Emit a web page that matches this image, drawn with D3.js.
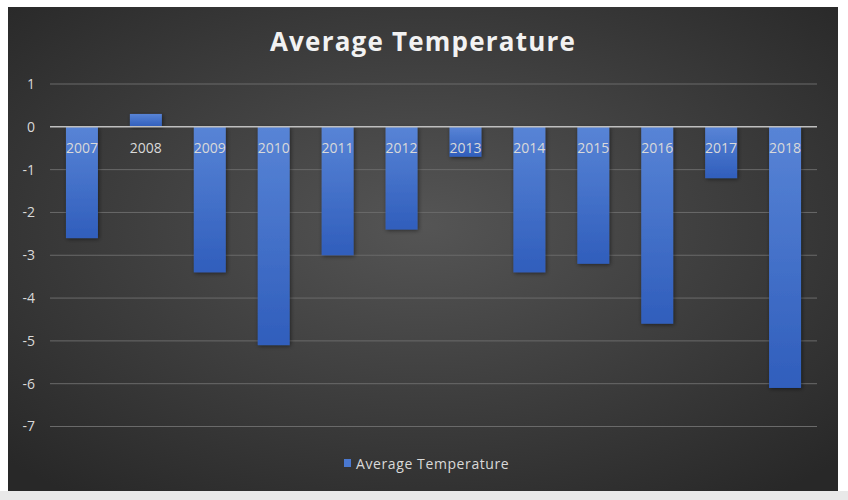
<!DOCTYPE html>
<html>
<head>
<meta charset="utf-8">
<script src="https://cdn.jsdelivr.net/npm/d3@7"></script>
<style>
  html, body { margin: 0; padding: 0; background: #ffffff; }
  svg { display: block; }
</style>
</head>
<body>
<svg id="chart"></svg>
<script>
// data
const years = ["2007", "2008", "2009", "2010", "2011", "2012", "2013", "2014", "2015", "2016", "2017", "2018"];
const temps = [-2.6, 0.3, -3.4, -5.1, -3.0, -2.4, -0.7, -3.4, -3.2, -4.6, -1.2, -6.1];
const yTicks = [1, 0, -1, -2, -3, -4, -5, -6, -7];

const W = 848, H = 500;
const svg = d3.select("#chart").attr("width", W).attr("height", H);
const defs = svg.append("defs");

const bg = defs.append("radialGradient").attr("id", "bg")
    .attr("cx", "50%").attr("cy", "45%").attr("r", "70%");
bg.append("stop").attr("offset", "0%").attr("stop-color", "#555555");
bg.append("stop").attr("offset", "100%").attr("stop-color", "#282828");

const barGrad = defs.append("linearGradient").attr("id", "barGrad")
    .attr("x1", 0).attr("y1", 0).attr("x2", 0).attr("y2", 1);
barGrad.append("stop").attr("offset", "0%").attr("stop-color", "#5884d6");
barGrad.append("stop").attr("offset", "100%").attr("stop-color", "#305ebc");

const shadow = defs.append("filter").attr("id", "shadow")
    .attr("x", "-30%").attr("y", "-10%").attr("width", "160%").attr("height", "130%");
shadow.append("feDropShadow").attr("dx", 1).attr("dy", 1).attr("stdDeviation", 2)
    .attr("flood-color", "#000").attr("flood-opacity", 0.5);

// page strip below the chart
svg.append("rect").attr("x", 0).attr("y", 491).attr("width", W).attr("height", H - 491).attr("fill", "#e9e9e9");
// chart area
svg.append("rect").attr("x", 8).attr("y", 7).attr("width", 830).attr("height", 484)
    .attr("fill", "url(#bg)");

const x = d3.scaleBand().domain(years).range([50, 817]).paddingInner(0.5).paddingOuter(0.25);
const y = d3.scaleLinear().domain([-7, 1]).range([426.5, 84]);

// grid lines
svg.append("g")
    .selectAll("line")
    .data(yTicks.filter(d => d !== 0))
    .join("line")
    .attr("x1", 50).attr("x2", 817)
    .attr("y1", d => y(d)).attr("y2", d => y(d))
    .attr("stroke", "#6a6a6a").attr("stroke-width", 1);

// y tick labels
svg.append("g")
    .selectAll("text")
    .data(yTicks)
    .join("text")
    .attr("x", 35).attr("y", d => y(d))
    .attr("dy", "0.35em")
    .attr("text-anchor", "end")
    .attr("fill", "#d9d9d9")
    .style("font", "14px 'Open Sans', sans-serif")
    .text(d => d);

// bars
svg.append("g")
    .selectAll("rect")
    .data(temps)
    .join("rect")
    .attr("x", (d, i) => x(years[i]))
    .attr("width", x.bandwidth())
    .attr("y", d => y(Math.max(0, d)))
    .attr("height", d => Math.abs(y(d) - y(0)))
    .attr("fill", "url(#barGrad)")
    .attr("filter", "url(#shadow)");

// zero line
svg.append("line")
    .attr("x1", 50).attr("x2", 817)
    .attr("y1", y(0)).attr("y2", y(0))
    .attr("stroke", "#bfbfbf").attr("stroke-width", 1.5);

// category labels sit just below the zero line
svg.append("g")
    .selectAll("text")
    .data(years)
    .join("text")
    .attr("x", d => x(d) + x.bandwidth() / 2)
    .attr("y", y(0) + 26)
    .attr("text-anchor", "middle")
    .attr("fill", "#d9d9d9")
    .style("font", "14px 'Open Sans', sans-serif")
    .text(d => d);

// title
svg.append("text")
    .attr("x", 423).attr("y", 51)
    .attr("text-anchor", "middle")
    .attr("fill", "#f2f2f2")
    .style("font", "bold 26px 'Open Sans', sans-serif")
    .style("letter-spacing", "1.2px")
    .text("Average Temperature");

// legend
const legend = svg.append("g");
legend.append("rect").attr("x", 344).attr("y", 459).attr("width", 7).attr("height", 8)
    .attr("fill", "#4a78d0");
legend.append("text").attr("x", 356).attr("y", 469)
    .attr("fill", "#d9d9d9")
    .style("font", "14px 'Open Sans', sans-serif")
    .style("letter-spacing", "0.6px")
    .text("Average Temperature");
</script>
</body>
</html>
